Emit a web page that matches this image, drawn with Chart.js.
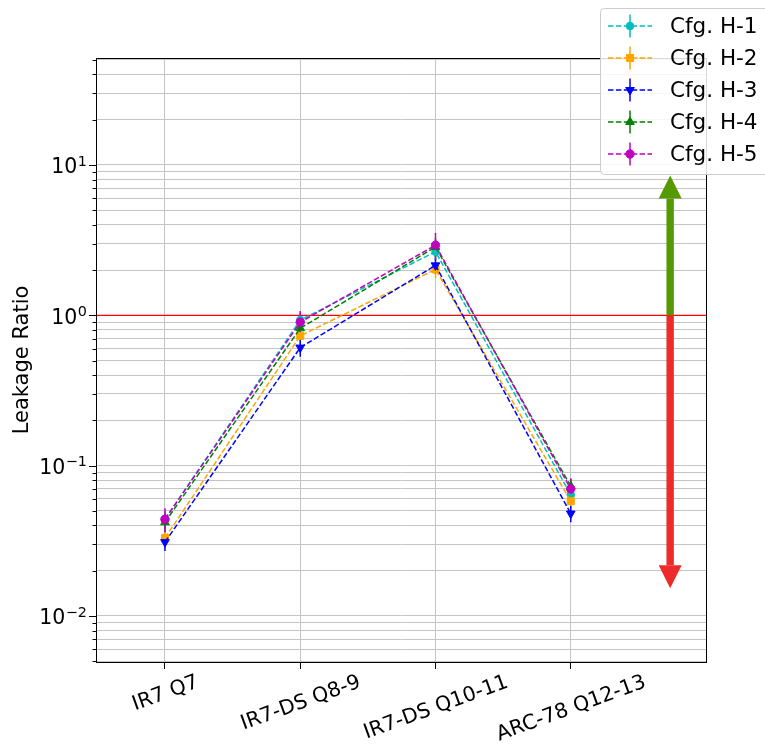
<!DOCTYPE html>
<html>
<head>
<meta charset="utf-8">
<script src="https://cdn.jsdelivr.net/npm/chart.js@4.4.1/dist/chart.umd.min.js"></script>
<style>
  body { margin: 0; background: #fff; }
  #wrap { width: 765px; height: 750px; }
</style>
</head>
<body>
<div id="wrap"><canvas id="leakChart"></canvas></div>
<script>
const categories = ["IR7 Q7", "IR7-DS Q8-9", "IR7-DS Q10-11", "ARC-78 Q12-13"];
const seriesNames = ["Cfg. H-1", "Cfg. H-2", "Cfg. H-3", "Cfg. H-4", "Cfg. H-5"];

const h1 = [0.044, 0.93, 2.65, 0.064];
const h2 = [0.033, 0.73, 2.02, 0.058];
const h3 = [0.031, 0.61, 2.15, 0.048];
const h4 = [0.042, 0.82, 2.85, 0.073];
const h5 = [0.044, 0.90, 2.93, 0.070];

const h1Err = [0.006, 0.12, 0.35, 0.008];
const h2Err = [0.004, 0.09, 0.25, 0.007];
const h3Err = [0.004, 0.08, 0.25, 0.006];
const h4Err = [0.006, 0.12, 0.40, 0.009];
const h5Err = [0.008, 0.17, 0.60, 0.012];

const yTickValues = [0.01, 0.1, 1, 10];
const yTickExponents = ["\u22122", "\u22121", "0", "1"];

// arrow annotation (x in category index units, tips in y units)
const arrowX = 3.735;
const arrowUpTip = 8.5;
const arrowDownTip = 0.0153;

const colors = ["#00bfbf", "#ffa500", "#0000ff", "#008000", "#bf00bf"];
const styles = [
  { pointStyle: "circle", radius: 3.8, rotation: 0 },
  { pointStyle: "rect", radius: 5, rotation: 0 },
  { pointStyle: "triangle", radius: 5, rotation: 180 },
  { pointStyle: "triangle", radius: 5, rotation: 0 },
  { pointStyle: "circle", radius: 4.2, rotation: 0 },
];
const allValues = [h1, h2, h3, h4, h5];
const allErrors = [h1Err, h2Err, h3Err, h4Err, h5Err];

const FONT = "DejaVu Sans";
const FS = 21;        // axis title
const TICK_FS = 20.5; // tick labels
const LEG_FS = 21.5;  // legend

function drawMarker(ctx, style, x, y, color) {
  const r = style.radius;
  ctx.save();
  ctx.fillStyle = color;
  ctx.strokeStyle = color;
  ctx.lineWidth = 1;
  ctx.translate(x, y);
  ctx.rotate(style.rotation * Math.PI / 180);
  ctx.beginPath();
  if (style.pointStyle === "circle") {
    ctx.arc(0, 0, r, 0, Math.PI * 2);
  } else if (style.pointStyle === "rect") {
    const s = r / Math.SQRT2;
    ctx.rect(-s, -s, 2 * s, 2 * s);
  } else {
    const w = r * Math.sqrt(3) / 2;
    ctx.moveTo(0, -r);
    ctx.lineTo(w, r / 2);
    ctx.lineTo(-w, r / 2);
    ctx.closePath();
  }
  ctx.fill();
  ctx.stroke();
  ctx.restore();
}

function drawArrow(ctx, x, yFrom, yTip, color) {
  const dir = yTip < yFrom ? -1 : 1;
  const headLen = 23, headHalf = 11.5, shaftHalf = 3.7;
  const base = yTip - dir * headLen;
  ctx.fillStyle = color;
  ctx.fillRect(x - shaftHalf, Math.min(yFrom, base), shaftHalf * 2, Math.abs(base - yFrom));
  ctx.beginPath();
  ctx.moveTo(x - headHalf, base);
  ctx.lineTo(x + headHalf, base);
  ctx.lineTo(x, yTip);
  ctx.closePath();
  ctx.fill();
}

const extras = {
  id: "extras",
  beforeDatasetsDraw(chart) {
    const { ctx, chartArea: a, scales: { x, y } } = chart;
    ctx.save();
    // horizontal line at ratio 1
    const y1 = y.getPixelForValue(1);
    ctx.strokeStyle = "#ff0000";
    ctx.lineWidth = 1.3;
    ctx.beginPath();
    ctx.moveTo(a.left, y1);
    ctx.lineTo(a.right, y1);
    ctx.stroke();
    // error bars
    ctx.lineWidth = 1.5;
    allValues.forEach((vals, i) => {
      ctx.strokeStyle = colors[i];
      vals.forEach((v, j) => {
        const px = x.getPixelForValue(j);
        ctx.beginPath();
        ctx.moveTo(px, y.getPixelForValue(v + allErrors[i][j]));
        ctx.lineTo(px, y.getPixelForValue(v - allErrors[i][j]));
        ctx.stroke();
      });
    });
    ctx.restore();
  },
  afterDatasetsDraw(chart) {
    const { ctx, chartArea: a, scales: { x, y } } = chart;
    ctx.save();
    // arrows
    const ax = x.getPixelForValue(arrowX);
    const y1 = y.getPixelForValue(1);
    drawArrow(ctx, ax, y1, y.getPixelForValue(arrowUpTip), "#559a05");
    drawArrow(ctx, ax, y1, y.getPixelForValue(arrowDownTip), "#ee2b2b");

    // frame
    ctx.strokeStyle = "#000";
    ctx.lineWidth = 1;
    ctx.strokeRect(Math.round(a.left) + 0.5, Math.round(a.top) + 0.5,
      Math.round(a.right - a.left), Math.round(a.bottom - a.top));

    // y tick marks (major and minor)
    y.ticks.forEach(t => {
      const py = Math.round(y.getPixelForValue(t.value)) + 0.5;
      const major = Math.abs(Math.log10(t.value) - Math.round(Math.log10(t.value))) < 1e-6;
      ctx.beginPath();
      ctx.moveTo(a.left, py);
      ctx.lineTo(a.left - (major ? 7 : 3.5), py);
      ctx.stroke();
    });

    // y tick labels: 10 with raised exponent
    ctx.fillStyle = "#000";
    ctx.textBaseline = "alphabetic";
    ctx.textAlign = "left";
    const expFont = (TICK_FS * 0.7) + "px '" + FONT + "'";
    const baseFont = TICK_FS + "px '" + FONT + "'";
    yTickValues.forEach((v, i) => {
      const py = y.getPixelForValue(v);
      ctx.font = expFont;
      const ew = ctx.measureText(yTickExponents[i]).width;
      ctx.font = baseFont;
      const bw = ctx.measureText("10").width;
      const right = a.left - 9;
      const bx = right - ew - bw - 0.5;
      ctx.fillText("10", bx, py + 8.5);
      ctx.font = expFont;
      ctx.fillText(yTickExponents[i], bx + bw + 0.5, py + 0.8);
    });

    // x tick labels, rotated 20 degrees and centred under each tick
    ctx.font = baseFont;
    ctx.textAlign = "center";
    const ang = 20 * Math.PI / 180;
    const th = TICK_FS * 1.164;
    categories.forEach((c, i) => {
      const px = x.getPixelForValue(i);
      const w = ctx.measureText(c).width;
      const bh = w * Math.sin(ang) + th * Math.cos(ang);
      const cy = a.bottom + 7 + bh / 2;
      ctx.save();
      ctx.translate(px, cy);
      ctx.rotate(-ang);
      ctx.fillText(c, 0, TICK_FS * 0.346);
      ctx.restore();
    });

    // legend
    const lx = 600.5, ly = 8.5, lw = 175, lh = 166;
    ctx.beginPath();
    ctx.roundRect(lx, ly, lw, lh, 4);
    ctx.fillStyle = "rgba(255,255,255,0.85)";
    ctx.fill();
    ctx.strokeStyle = "#cccccc";
    ctx.stroke();
    ctx.font = LEG_FS + "px '" + FONT + "'";
    ctx.textAlign = "left";
    ctx.textBaseline = "middle";
    seriesNames.forEach((name, i) => {
      const ry = 26 + i * 32;
      ctx.strokeStyle = colors[i];
      ctx.lineWidth = 1.5;
      ctx.setLineDash([5.5, 2.4]);
      ctx.beginPath();
      ctx.moveTo(608, ry);
      ctx.lineTo(652, ry);
      ctx.stroke();
      ctx.setLineDash([]);
      ctx.beginPath();
      ctx.moveTo(630, ry - 11.5);
      ctx.lineTo(630, ry + 11.5);
      ctx.stroke();
      drawMarker(ctx, styles[i], 630, ry, colors[i]);
      ctx.fillStyle = "#000";
      ctx.fillText(name, 670, ry + 1);
    });
    ctx.restore();
  },
};

const datasets = allValues.map((vals, i) => ({
  label: seriesNames[i],
  data: vals.map((v, j) => ({ x: j, y: v })),
  borderColor: colors[i],
  backgroundColor: colors[i],
  borderWidth: 1.5,
  borderDash: [5.5, 2.4],
  pointStyle: styles[i].pointStyle,
  pointRadius: styles[i].radius,
  pointRotation: styles[i].rotation,
  pointBorderWidth: 1,
  pointHoverRadius: styles[i].radius,
  tension: 0,
  order: 5 - i,
}));

new Chart(document.getElementById("leakChart"), {
  type: "line",
  data: { datasets },
  plugins: [extras],
  options: {
    responsive: true,
    maintainAspectRatio: false,
    animation: false,
    layout: { padding: { top: 58, right: 59, left: 0, bottom: 0 } },
    plugins: { legend: { display: false }, tooltip: { enabled: false } },
    scales: {
      x: {
        type: "linear",
        min: -0.51,
        max: 4.0,
        afterBuildTicks: s => { s.ticks = categories.map((c, i) => ({ value: i })); },
        afterFit: s => { s.height = 88; },
        ticks: { display: false, autoSkip: false },
        grid: { color: "#c4c4c4", lineWidth: 1, tickLength: 7, tickColor: "#000" },
        border: { color: "#000" },
      },
      y: {
        type: "logarithmic",
        min: 0.00494,
        max: 51.5,
        afterBuildTicks: s => {
          const t = [];
          for (let n = -3; n <= 1; n++) {
            for (let k = 1; k <= 9; k++) {
              const v = k * Math.pow(10, n);
              if (v >= s.min && v <= s.max) t.push({ value: v });
            }
          }
          s.ticks = t;
        },
        afterFit: s => { s.width = 96; },
        ticks: { display: false, autoSkip: false },
        grid: { color: "#c4c4c4", lineWidth: 1, drawTicks: false },
        border: { color: "#000" },
        title: {
          display: true,
          text: "Leakage Ratio",
          color: "#000",
          font: { family: FONT, size: FS },
          padding: { top: 10, bottom: 0 },
        },
      },
    },
  },
});
</script>
</body>
</html>
